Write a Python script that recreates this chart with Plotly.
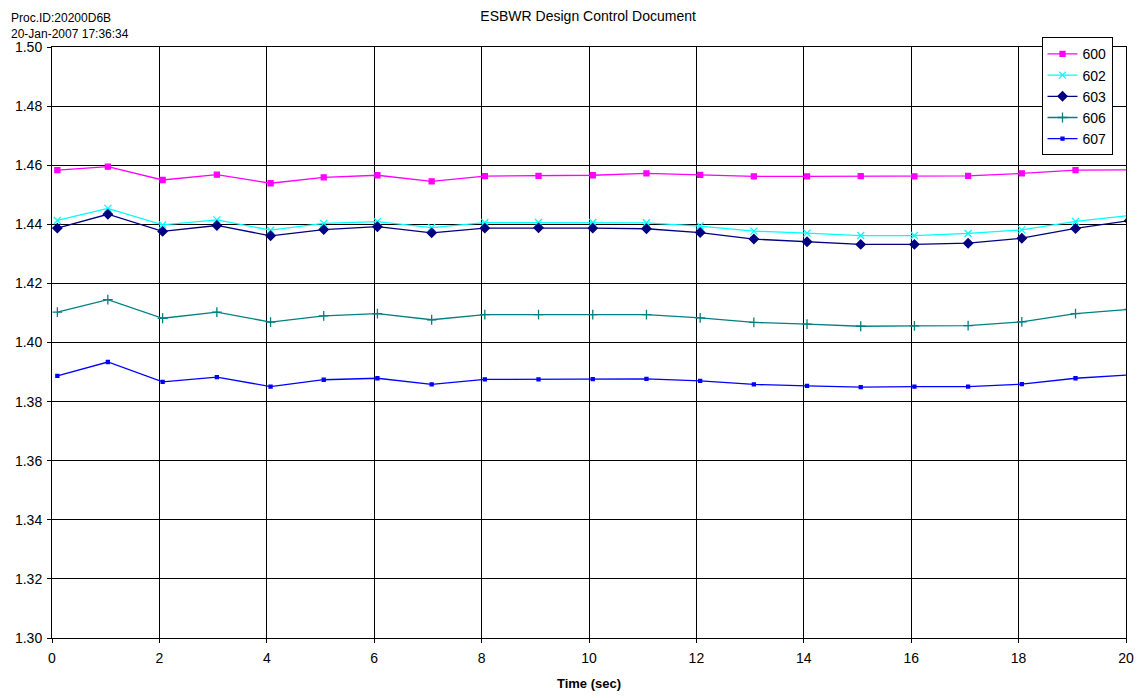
import plotly.graph_objects as go

time_sec = [0.10, 1.04, 2.06, 3.07, 4.07, 5.06, 6.06, 7.07, 8.06, 9.06, 10.07,
            11.07, 12.07, 13.07, 14.06, 15.06, 16.06, 17.06, 18.06, 19.06, 20.06]

s600 = [1.4583, 1.4595, 1.4550, 1.4568, 1.4539, 1.4559, 1.4566, 1.4545, 1.4563, 1.4564, 1.4566,
        1.4572, 1.4567, 1.4562, 1.4562, 1.4563, 1.4562, 1.4564, 1.4572, 1.4583, 1.4584]
s602 = [1.4413, 1.4454, 1.4398, 1.4415, 1.4380, 1.4403, 1.4409, 1.4389, 1.4406, 1.4406, 1.4406,
        1.4405, 1.4394, 1.4377, 1.4370, 1.4362, 1.4362, 1.4369, 1.4381, 1.4410, 1.4430]
s603 = [1.4387, 1.4434, 1.4376, 1.4396, 1.4361, 1.4382, 1.4392, 1.4371, 1.4387, 1.4388, 1.4387,
        1.4385, 1.4372, 1.4350, 1.4341, 1.4332, 1.4332, 1.4336, 1.4353, 1.4386, 1.4412]
s606 = [1.4103, 1.4145, 1.4082, 1.4103, 1.4069, 1.4090, 1.4098, 1.4077, 1.4094, 1.4094, 1.4094,
        1.4094, 1.4083, 1.4068, 1.4062, 1.4055, 1.4056, 1.4057, 1.4070, 1.4098, 1.4112]
s607 = [1.3887, 1.3934, 1.3867, 1.3883, 1.3851, 1.3874, 1.3879, 1.3858, 1.3875, 1.3875, 1.3876,
        1.3877, 1.3870, 1.3858, 1.3853, 1.3849, 1.3851, 1.3851, 1.3859, 1.3879, 1.3890]

series_names = ["600", "602", "603", "606", "607"]
series_values = [s600, s602, s603, s606, s607]
colors = ["#FF00FF", "#00FFFF", "#000080", "#008080", "#0000FF"]
symbols = ["square", "x-thin-open", "diamond", "cross-thin-open", "square"]
sizes = [5, 7, 7, 7, 3]

x_ticks = list(range(0, 21, 2))
y_ticks = [1.30 + 0.02 * i for i in range(11)]

fig = go.Figure()
for name, vals, c, sym, sz in zip(series_names, series_values, colors, symbols, sizes):
    fig.add_trace(go.Scatter(
        x=time_sec, y=vals, name=name, mode="lines+markers",
        line=dict(color=c, width=1.3),
        marker=dict(symbol=sym, size=sz, color=c, line=dict(color=c, width=1.3)),
        cliponaxis=True,
    ))

fig.update_layout(
    width=1142, height=698,
    margin=dict(l=44, r=24, t=39, b=68, autoexpand=False),
    paper_bgcolor="white", plot_bgcolor="white",
    font=dict(family="Liberation Sans, Arial, sans-serif", size=14, color="black"),
    showlegend=True,
    legend=dict(x=0.905, y=0.958, xref="container", yref="container",
                xanchor="left", yanchor="top",
                bordercolor="black", borderwidth=1, bgcolor="white",
                font=dict(size=14), tracegroupgap=0, itemwidth=30),
    title=dict(text="ESBWR Design Control Document", x=0.508, xanchor="center",
               xref="container", yref="container",
               y=0.996, yanchor="top", pad=dict(t=0, b=0),
               font=dict(size=14)),
)

fig.add_annotation(text="Proc.ID:20200D6B", xref="paper", yref="paper",
                   x=-0.0395, y=1.0625, xanchor="left", yanchor="top",
                   showarrow=False, font=dict(size=12), borderpad=0)
fig.add_annotation(text="20-Jan-2007 17:36:34", xref="paper", yref="paper",
                   x=-0.0395, y=1.0355, xanchor="left", yanchor="top",
                   showarrow=False, font=dict(size=12), borderpad=0)

fig.update_xaxes(range=[0, 20], tickvals=x_ticks, ticktext=[str(v) for v in x_ticks],
                 showgrid=True, gridcolor="black", gridwidth=1, automargin=False,
                 showline=True, linecolor="black", linewidth=1, mirror=True,
                 ticks="outside", ticklen=4, tickcolor="black", zeroline=False,
                 ticklabelstandoff=3, tickfont=dict(size=14),
                 title=dict(text="<b>Time (sec)</b>", font=dict(size=13), standoff=14))
fig.update_yaxes(range=[1.30, 1.50], tickvals=y_ticks, ticktext=[f"{v:.2f}" for v in y_ticks],
                 showgrid=True, gridcolor="black", gridwidth=1, automargin=False,
                 showline=True, linecolor="black", linewidth=1, mirror=True,
                 ticks="outside", ticklen=4, tickcolor="black", zeroline=False,
                 ticklabelstandoff=2, tickfont=dict(size=14))

fig.write_html("out.html")
